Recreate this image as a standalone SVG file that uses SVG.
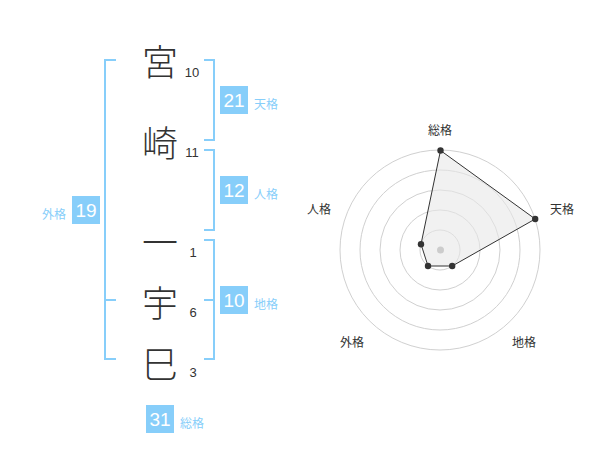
<svg xmlns="http://www.w3.org/2000/svg" width="600" height="470" viewBox="0 0 600 470">
<style>
.br{fill:none;stroke:#87cefa;stroke-width:2}
.box{fill:#87cefa}
.bt{font-family:"Liberation Sans",Arial,sans-serif;font-size:19px;fill:#fff;text-anchor:middle}
.lb{font-family:"Noto Sans CJK JP","Noto Sans",sans-serif;font-size:12px;fill:#87cefa}
.ch{font-family:"Noto Sans CJK JP",sans-serif;font-size:36px;font-weight:300;fill:#333;text-anchor:middle;dominant-baseline:central}
.num{font-family:"Liberation Sans",Arial,sans-serif;font-size:13px;fill:#333;text-anchor:middle}
.rl{font-family:"Noto Sans CJK JP","Noto Sans",sans-serif;font-size:12px;fill:#333;text-anchor:middle}
.ring{fill:none;stroke:#d0d0d0;stroke-width:1}
.dot{fill:#333}
</style>
<rect width="600" height="470" fill="#fff"/>
<g id="connectors">
<path class="br" d="M116,60 H105 V359 H116 M105,300 H116"/>
<path class="br" d="M204,60 H214 V140 H204"/>
<path class="br" d="M204,150 H214 V230 H204"/>
<path class="br" d="M204,240 H214 V359 H204 M214,300 H204"/>
</g>
<g id="chars">
<text class="ch" x="160" y="60">宮</text>
<text class="num" x="192" y="77">10</text>
<text class="ch" x="160" y="141">崎</text>
<text class="num" x="192" y="157">11</text>
<text class="ch" x="160" y="240">一</text>
<text class="num" x="193" y="257">1</text>
<text class="ch" x="160" y="301">宇</text>
<text class="num" x="193" y="317">6</text>
<text class="ch" x="160" y="362">巳</text>
<text class="num" x="193" y="377">3</text>
</g>
<g id="tenkaku">
<rect class="box" x="220" y="86" width="28" height="28"/>
<text class="bt" x="234" y="107">21</text>
<text class="lb" x="254" y="109">天格</text>
</g>
<g id="jinkaku">
<rect class="box" x="220" y="176" width="28" height="28"/>
<text class="bt" x="234" y="197">12</text>
<text class="lb" x="254" y="199">人格</text>
</g>
<g id="chikaku">
<rect class="box" x="220" y="286" width="28" height="28"/>
<text class="bt" x="234" y="307">10</text>
<text class="lb" x="254" y="309">地格</text>
</g>
<g id="gaikaku">
<rect class="box" x="72" y="196" width="28" height="28"/>
<text class="bt" x="86" y="217">19</text>
<text class="lb" x="66" y="219" text-anchor="end">外格</text>
</g>
<g id="soukaku">
<rect class="box" x="146" y="405" width="28" height="28"/>
<text class="bt" x="160" y="426">31</text>
<text class="lb" x="180" y="428">総格</text>
</g>
<g id="radar">
<circle class="ring" cx="440" cy="250" r="20"/>
<circle class="ring" cx="440" cy="250" r="40"/>
<circle class="ring" cx="440" cy="250" r="60"/>
<circle class="ring" cx="440" cy="250" r="80"/>
<circle class="ring" cx="440" cy="250" r="100"/>
<polygon points="440.5,150.5 535.2,219 452.2,266 428,266 421,244.2" fill="#e8e8e8" fill-opacity="0.6" stroke="#333" stroke-width="1"/>
<circle cx="440.5" cy="250" r="3.5" fill="#cccccc"/>
<circle class="dot" cx="440.5" cy="150.5" r="3.2"/>
<circle class="dot" cx="535.2" cy="219" r="3.2"/>
<circle class="dot" cx="452.2" cy="266" r="3.2"/>
<circle class="dot" cx="428" cy="266" r="3.2"/>
<circle class="dot" cx="421" cy="244.2" r="3.2"/>
<text class="rl" x="440" y="135">総格</text>
<text class="rl" x="562" y="214">天格</text>
<text class="rl" x="319" y="214">人格</text>
<text class="rl" x="352" y="347">外格</text>
<text class="rl" x="524" y="347">地格</text>
</g>
</svg>
